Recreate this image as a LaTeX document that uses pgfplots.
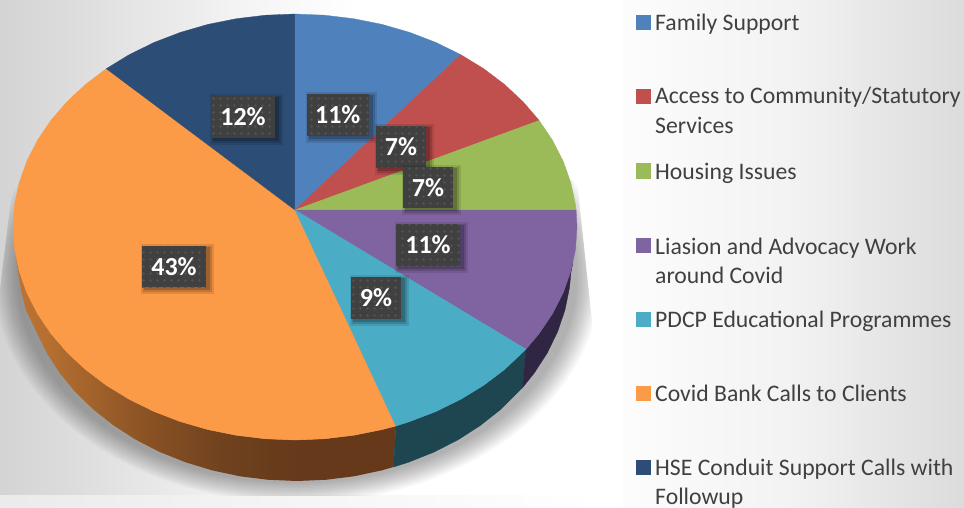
\documentclass[border=0pt]{standalone}
\usepackage{pgfplots}
\pgfplotsset{compat=1.18}
\usepackage{fontspec}
\setmainfont{Carlito}
\usetikzlibrary{patterns}
\definecolor{cBlue}{HTML}{4F81BD}
\definecolor{cRed}{HTML}{C0504D}
\definecolor{cGreen}{HTML}{9BBB59}
\definecolor{cPurple}{HTML}{8064A2}
\definecolor{cTeal}{HTML}{4BACC6}
\definecolor{cOrange}{HTML}{FB9A47}
\definecolor{cNavy}{HTML}{2C4D75}
\definecolor{cTealS}{HTML}{1D4650}
\definecolor{cPurpS}{HTML}{302543}
\definecolor{cBox}{HTML}{404040}
\definecolor{cTxt}{HTML}{404040}
\pgfdeclarehorizontalshading{orangeside}{100bp}{
 rgb(0bp)=(0.74,0.45,0.20);
 rgb(25bp)=(0.74,0.45,0.20);
 rgb(29.4bp)=(0.71,0.435,0.19);
 rgb(42.5bp)=(0.54,0.32,0.14);
 rgb(51.8bp)=(0.44,0.26,0.12);
 rgb(62.3bp)=(0.396,0.224,0.102);
 rgb(100bp)=(0.396,0.224,0.102)}
\pgfdeclarehorizontalshading{leftbg}{100bp}{
 rgb(0bp)=(0.83,0.83,0.83);
 rgb(25bp)=(0.83,0.83,0.83);
 rgb(35bp)=(0.89,0.89,0.89);
 rgb(46bp)=(0.96,0.96,0.96);
 rgb(55bp)=(1,1,1);
 rgb(100bp)=(1,1,1)}
\pgfdeclarehorizontalshading{rightbg}{100bp}{
 rgb(0bp)=(1,1,1);
 rgb(25bp)=(0.99,0.99,0.99);
 rgb(50bp)=(0.95,0.95,0.95);
 rgb(75bp)=(0.86,0.86,0.86);
 rgb(100bp)=(0.86,0.86,0.86)}
\pgfdeclarepatternformonly{boxdots}{\pgfpoint{-1pt}{-1pt}}{\pgfpoint{7pt}{7pt}}{\pgfpoint{7pt}{7pt}}{
 \pgfpathcircle{\pgfpoint{3.5pt}{3.5pt}}{1.3pt}\pgfusepath{fill}}
\newcommand\lab[5]{%
 \fill[black,opacity=.10] ([shift={(-1pt,-7pt)}]axis cs:#1,#4) rectangle ([shift={(8pt,2pt)}]axis cs:#3,#2);
 \fill[black,opacity=.14] ([shift={(1pt,-5pt)}]axis cs:#1,#4) rectangle ([shift={(6pt,0pt)}]axis cs:#3,#2);
 \fill[black,opacity=.18] ([shift={(2pt,-3pt)}]axis cs:#1,#4) rectangle ([shift={(4pt,-1pt)}]axis cs:#3,#2);
 \fill[cBox] (axis cs:#1,#2) rectangle (axis cs:#3,#4);
 \fill[pattern=boxdots,pattern color=white!10!cBox] (axis cs:#1,#2) rectangle (axis cs:#3,#4);
 \node[text=white,font=\fontsize{26}{26}\selectfont\bfseries,inner sep=0pt] at (axis cs:{(#1+#3)/2},{(#2+#4)/2}) {#5};
}
\newcommand\legtxt[2]{\node[anchor=base west,inner sep=0pt,text=cTxt,font=\fontsize{23.7}{23.7}\selectfont] at (axis cs:655,#1+1) {#2};}
\newcommand\legmark[2]{\addplot[only marks,mark=square*,mark size=7pt,line width=0pt,color=#1,mark options={draw=#1,fill=#1,line width=0pt}] coordinates {(643,#2)};}
\begin{document}
\begin{tikzpicture}[x=1pt,y=1pt]
\path[use as bounding box] (0,0) rectangle (964,508);
\clip (0,0) rectangle (964,508);
\fill[white] (0,0) rectangle (964,508);
% left panel
\shade[shading=leftbg] (0,12) rectangle (596,508);
\shade[left color=black!8,right color=white] (0,0) rectangle (596,12);
\begin{scope}
\clip (0,12) -- (0,218) -- (15,343) -- (577,328) -- (595,158) -- (595,12) -- cycle;
\foreach \i in {0,...,13}{
 \fill[black,opacity=.022] (297,233) ellipse [x radius={304-\i*1.8},y radius={228-\i*1.5}];
}
\end{scope}
% legend panel
\shade[shading=rightbg] (623,0) rectangle (964,508);
\begin{axis}[at={(0,0)},anchor=south west,scale only axis,width=964pt,height=508pt,
 xmin=0,xmax=964,ymin=0,ymax=508,y dir=reverse,axis lines=none,ticks=none,clip=false]
% --- sides
\addplot[shade,shading=orangeside,draw=none,no markers] coordinates {
(396,426)(393.5,467)(381.7,470.4)(354,476.3)(325.6,479.8)(297,481)(268.4,479.8)(240,476.3)(212.3,470.4)(185.6,462.3)(160,452.1)(135.9,439.8)(113.7,425.5)(93.4,409.5)(75.3,392)(59.7,373)(46.7,352.9)(36.4,331.7)(26,310)(21,290)(17,265)(14.5,249.3)
(19.2,271.3)(26.8,292.8)(37.4,313.6)(50.8,333.5)(66.9,352.2)(85.4,369.5)(106.3,385.3)(129.2,399.3)(154,411.5)(180.3,421.6)(207.9,429.6)(236.4,435.3)(265.5,438.8)(295,440)(324.5,438.8)(353.6,435.3)(382.1,429.6)
} --cycle;
\addplot[fill=cTealS,draw=cTealS,line width=.3pt,no markers] coordinates {
(526,349.2)(522.5,387.7)(500.6,409.5)(480.3,425.5)(458.1,439.8)(434,452.1)(408.4,462.3)(393.5,467)(396,426)(409.7,421.6)(436,411.5)(460.8,399.3)(483.7,385.3)(504.6,369.5)
} --cycle;
\addplot[fill=cPurpS,draw=cPurpS,line width=.3pt,no markers] coordinates {
(573,262)(571,272)(569.5,287.6)(565,309.9)(557.6,331.7)(547.3,352.9)(534.3,373)(522.5,387.7)(526,349.2)(539.2,333.5)(552.6,313.6)(563.2,292.8)(570.8,271.3)
} --cycle;
% --- top faces
\addplot[fill=cOrange,draw=cOrange,line width=.3pt,no markers] coordinates {
(295,210)(396,426)(382.1,429.6)(353.6,435.3)(324.5,438.8)(295,440)(265.5,438.8)(236.4,435.3)(207.9,429.6)(180.3,421.6)(154,411.5)(129.2,399.3)(106.3,385.3)(85.4,369.5)(66.9,352.2)(50.8,333.5)(37.4,313.6)(26.8,292.8)(19.2,271.3)(14.5,249.3)(13,227)(14.5,204.7)(19.2,182.7)(26.8,161.2)(37.4,140.4)(50.8,120.5)(66.9,101.8)(85.4,84.5)(106.3,68.7)
} --cycle;
\addplot[fill=cNavy,draw=cNavy,line width=.3pt,no markers] coordinates {
(295,210)(106.3,68.7)(129.2,54.7)(154,42.5)(180.3,32.4)(207.9,24.4)(236.4,18.7)(265.5,15.2)(295,14)
} --cycle;
\addplot[fill=cBlue,draw=cBlue,line width=.3pt,no markers] coordinates {
(295,210)(295,14)(324.5,15.2)(353.6,18.7)(382.1,24.4)(409.7,32.4)(436,42.5)(460.8,54.7)
} --cycle;
\addplot[fill=cRed,draw=cRed,line width=.3pt,no markers] coordinates {
(295,210)(460.8,54.7)(483.7,68.7)(504.6,84.5)(523.1,101.8)(539.2,120.5)
} --cycle;
\addplot[fill=cGreen,draw=cGreen,line width=.3pt,no markers] coordinates {
(295,210)(539.2,120.5)(552.6,140.4)(563.2,161.2)(570.8,182.7)(575.5,204.7)(576.1,210)
} --cycle;
\addplot[fill=cPurple,draw=cPurple,line width=.3pt,no markers] coordinates {
(295,210)(576.1,210)(577,227)(575.5,249.3)(570.8,271.3)(563.2,292.8)(552.6,313.6)(539.2,333.5)(526,349.2)
} --cycle;
\addplot[fill=cTeal,draw=cTeal,line width=.3pt,no markers] coordinates {
(295,210)(526,349.2)(504.6,369.5)(483.7,385.3)(460.8,399.3)(436,411.5)(409.7,421.6)(396,426)
} --cycle;
% --- labels
\lab{211}{96}{275}{138}{12\%}
\lab{306.5}{94}{369}{136}{11\%}
\lab{376}{126}{426}{168}{7\%}
\lab{403}{167}{453}{208}{7\%}
\lab{396}{224}{460}{266}{11\%}
\lab{351}{277}{401}{319}{9\%}
\lab{142}{246}{206}{287}{43\%}
% --- legend
\legmark{cBlue}{23}
\legmark{cRed}{97}
\legmark{cGreen}{171}
\legmark{cPurple}{245}
\legmark{cTeal}{319}
\legmark{cOrange}{393}
\legmark{cNavy}{467}
\legtxt{30}{Family Support}
\legtxt{103}{Access to Community/Statutory}
\legtxt{133}{Services}
\legtxt{178}{Housing Issues}
\legtxt{253}{Liasion and Advocacy Work}
\legtxt{282}{around Covid}
\legtxt{326}{PDCP Educational Programmes}
\legtxt{400}{Covid Bank Calls to Clients}
\legtxt{474}{HSE Conduit Support Calls with}
\legtxt{503}{Followup}
\end{axis}
\end{tikzpicture}
\end{document}
